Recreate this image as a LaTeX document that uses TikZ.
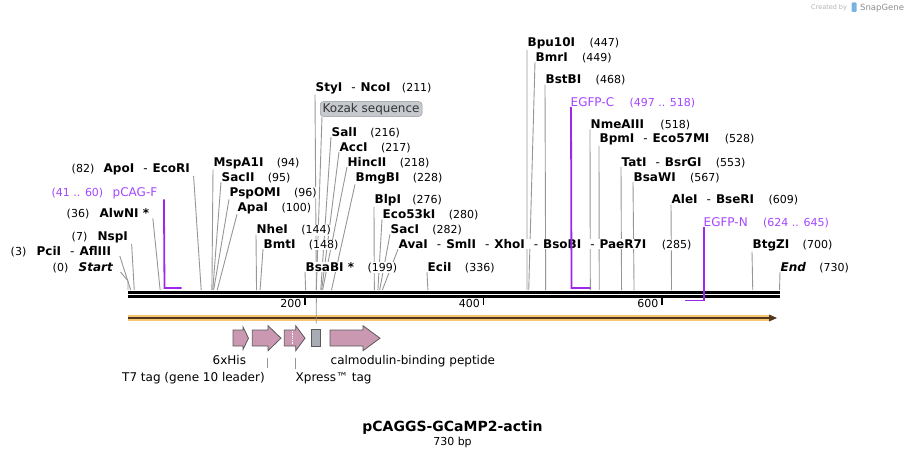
\documentclass[tikz,border=0pt]{standalone}
\usepackage{fontspec}
\setmainfont{DejaVu Sans}
\usetikzlibrary{positioning,backgrounds,calc}
\definecolor{leadgray}{RGB}{150,150,150}
\definecolor{primline}{RGB}{155,40,235}
\definecolor{primtext}{RGB}{165,70,255}
\definecolor{featpink}{RGB}{203,152,178}
\definecolor{featgray}{RGB}{168,173,181}
\definecolor{kozfill}{RGB}{198,201,206}
\definecolor{kozdraw}{RGB}{140,145,152}
\definecolor{orfband}{RGB}{247,198,112}
\definecolor{orfcore}{RGB}{80,55,30}
\definecolor{logoblue}{RGB}{120,180,225}
\newcommand\sepdash{\hspace{9pt}{\mdseries -}\hspace{5pt}}

\begin{document}
\begin{tikzpicture}[x=1pt, y=-1pt,
    enz/.style={font=\fontsize{12}{14}\selectfont\bfseries, anchor=base west, inner sep=0.5pt, fill=white},
    num/.style={font=\fontsize{11}{13}\selectfont, inner sep=0.5pt, fill=white},
    prim/.style={font=\fontsize{12}{14}\selectfont, text=primtext, anchor=base west, inner sep=0.5pt, fill=white},
    primnum/.style={num, text=primtext},
    feat/.style={font=\fontsize{12}{14}\selectfont, anchor=base west, inner sep=0.5pt},
    lead/.style={draw=leadgray, line width=0.9pt},
    bracket/.style={draw=primline, line width=1.8pt},
    featarrow/.style={draw=black!65, fill=featpink, line width=0.8pt}]
\useasboundingbox (0,0) rectangle (908,457);

% cut sites on the backbone
\foreach \n/\bp in {Start/0, PciI/3, NspI/7, AlwNI/36, ApoI/82, MspA1I/94, SacII/95,
    PspOMI/96, ApaI/100, NheI/144, BmtI/148, BsaBI/199, StyI/211, Kozak/211, SalI/216,
    AccI/217, HincII/218, BmgBI/228, BlpI/276, Eco53kI/280, SacI/282, AvaI/285,
    EciI/336, Bpu10I/447, BmrI/449, BstBI/468, NmeAIII/518, BpmI/528, TatI/553,
    BsaWI/567, AleI/609, BtgZI/700, End/730}
  \coordinate (s\n) at (128+0.8925*\bp,290);

% backbone
\draw[line width=2.6pt] (128,292.3) -- (780,292.3);
\draw[line width=2.6pt] (128,296.6) -- (780,296.6);
\foreach \bp in {200,400,600} {
  \coordinate (t\bp) at (126.5+0.8925*\bp,297.5);
  \draw[line width=1.6pt] (t\bp) -- ++(0,7.5);
  \node[num, fill=none, anchor=base east] (tl\bp) at ($(t\bp)+(-3,10)$) {\bp};
}

% enzymes, left of their sites
\node[enz] (ApoI) at (103,172.7) {ApoI\sepdash EcoRI};
\node[num, base left=8pt of ApoI] (nApoI) {(82)};
\node[enz] (AlwNI) at (99,217.7) {AlwNI *};
\node[num, base left=9pt of AlwNI] (nAlwNI) {(36)};
\node[enz] (NspI) at (97,241) {NspI};
\node[num, base left=9pt of NspI] (nNspI) {(7)};
\node[enz] (PciI) at (36,255.1) {PciI\sepdash AflIII};
\node[num, base left=9pt of PciI] (nPciI) {(3)};
\node[enz, font=\fontsize{12}{14}\selectfont\bfseries\itshape] (Start) at (78,271.1) {Start};
\node[num, base left=9pt of Start] (nStart) {(0)};

% enzymes, right of their sites
\node[enz] (MspA1I) at (213,166.1) {MspA1I};
\node[num, base right=12pt of MspA1I] {(94)};
\node[enz] (SacII) at (221,181.1) {SacII};
\node[num, base right=12pt of SacII] {(95)};
\node[enz] (PspOMI) at (229,196.1) {PspOMI};
\node[num, base right=12pt of PspOMI] {(96)};
\node[enz] (ApaI) at (237,211.1) {ApaI};
\node[num, base right=12pt of ApaI] {(100)};
\node[enz] (NheI) at (256,233.7) {NheI};
\node[num, base right=12pt of NheI] {(144)};
\node[enz] (BmtI) at (263,248.4) {BmtI};
\node[num, base right=12pt of BmtI] {(148)};
\node[enz] (BsaBI) at (305,271.1) {BsaBI *};
\node[num, base right=12pt of BsaBI] {(199)};
\node[enz] (StyI) at (315,91.1) {StyI\sepdash NcoI};
\node[num, base right=10pt of StyI] {(211)};
\node[enz] (SalI) at (331,136.1) {SalI};
\node[num, base right=12pt of SalI] {(216)};
\node[enz] (AccI) at (339,151.1) {AccI};
\node[num, base right=12pt of AccI] {(217)};
\node[enz] (HincII) at (347,166.1) {HincII};
\node[num, base right=12pt of HincII] {(218)};
\node[enz] (BmgBI) at (355,181.1) {BmgBI};
\node[num, base right=12pt of BmgBI] {(228)};
\node[enz] (BlpI) at (374,203.4) {BlpI};
\node[num, base right=10pt of BlpI] {(276)};
\node[enz] (Eco53kI) at (382,218.4) {Eco53kI};
\node[num, base right=12pt of Eco53kI] {(280)};
\node[enz] (SacI) at (390,233.4) {SacI};
\node[num, base right=12pt of SacI] {(282)};
\node[enz] (AvaI) at (398,248.4) {AvaI\sepdash SmlI\sepdash XhoI\sepdash BsoBI\sepdash PaeR7I};
\node[num, base right=14pt of AvaI] {(285)};
\node[enz] (EciI) at (427,271.1) {EciI};
\node[num, base right=12pt of EciI] {(336)};
\node[enz] (Bpu10I) at (527,46.7) {Bpu10I};
\node[num, base right=13pt of Bpu10I] {(447)};
\node[enz] (BmrI) at (535,61.1) {BmrI};
\node[num, base right=13pt of BmrI] {(449)};
\node[enz] (BstBI) at (545,83.7) {BstBI};
\node[num, base right=13pt of BstBI] {(468)};
\node[enz] (NmeAIII) at (590,128.4) {NmeAIII};
\node[num, base right=15pt of NmeAIII] {(518)};
\node[enz] (BpmI) at (599,142.7) {BpmI\sepdash Eco57MI};
\node[num, base right=14pt of BpmI] {(528)};
\node[enz] (TatI) at (621,166.1) {TatI\sepdash BsrGI};
\node[num, base right=13pt of TatI] {(553)};
\node[enz] (BsaWI) at (633,181.1) {BsaWI};
\node[num, base right=13pt of BsaWI] {(567)};
\node[enz] (AleI) at (671,203.4) {AleI\sepdash BseRI};
\node[num, base right=13pt of AleI] {(609)};
\node[enz] (BtgZI) at (752,248.4) {BtgZI};
\node[num, base right=12pt of BtgZI] {(700)};
\node[enz, font=\fontsize{12}{14}\selectfont\bfseries\itshape] (End) at (780,271.1) {End};
\node[num, base right=12pt of End] {(730)};

% primers
\node[prim] (pCAGF) at (112,196.1) {pCAG-F};
\node[primnum, base left=8pt of pCAGF] {(41 .. 60)};
\node[prim] (EGFPC) at (570,106.1) {EGFP-C};
\node[primnum, base right=14pt of EGFPC] {(497 .. 518)};
\node[prim] (EGFPN) at (703,226.1) {EGFP-N};
\node[primnum, base right=14pt of EGFPN] {(624 .. 645)};
\draw[bracket] ([xshift=6pt]pCAGF.south east) -- (164.5,288) -- (181.5,288);
\draw[bracket] ([xshift=1pt]EGFPC.south west) -- (571.5,288) -- (590.3,288);
\draw[bracket] ([xshift=1pt]EGFPN.south west) -- (704,300.5) -- (685,300.5);

% Kozak label
\node[font=\fontsize{12}{14}\selectfont, text=black!80, fill=kozfill, draw=kozdraw,
  rounded corners=3pt, inner xsep=2.5pt, inner ysep=1.5pt, anchor=west] (Kozak) at (320,109) {Kozak sequence};

% leader lines
\begin{pgfonlayer}{background}
\foreach \n in {MspA1I, SacII, PspOMI, ApaI, NheI, BmtI, BsaBI, StyI, SalI, AccI, HincII,
    BmgBI, BlpI, Eco53kI, SacI, AvaI, EciI, Bpu10I, BmrI, BstBI, NmeAIII, BpmI, TatI,
    BsaWI, AleI, BtgZI, End}
  \draw[lead] (\n.south west) -- (s\n);
\draw[lead] ([xshift=3pt]ApoI.south east) -- (sApoI);
\draw[lead] ([xshift=3pt]AlwNI.south east) -- (sAlwNI);
\draw[lead] ([xshift=3pt]NspI.south east) -- (sNspI);
\draw[lead] ([xshift=8pt]PciI.south east) -- (sPciI);
\draw[lead] ([xshift=7pt]Start.south east) -- ($(sStart)+(0,-9)$) -- (sStart);
\draw[lead] ([xshift=2pt]Kozak.south west) -- (sKozak);
\end{pgfonlayer}

% open reading frame
\draw[orfband, line width=6.5pt] (128,318) -- (771,318);
\draw[orfcore, line width=1.5pt] (128,318) -- (772,318);
\fill[orfcore] (769,314.5) -- (777,318) -- (769,321.5) -- cycle;

% features
\draw[featarrow] (233,330) -- (243,330) -- (243,327) -- (248.5,338.2) -- (243,349.5) -- (243,346) -- (233,346) -- cycle;
\draw[featarrow] (252.3,330) -- (268,330) -- (268,325.7) -- (281,338.2) -- (268,350.7) -- (268,346) -- (252.3,346) -- cycle;
\draw[featarrow] (284.3,330) -- (295.7,330) -- (295.7,325.7) -- (305,338.2) -- (295.7,350.7) -- (295.7,346) -- (284.3,346) -- cycle;
\draw[white, densely dotted, line width=0.8pt] (292.7,330.8) -- (292.7,345.2);
\draw[draw=black!65, fill=featgray, line width=0.8pt] (311.7,329.5) rectangle (320.7,346.5);
\draw[featarrow] (330,330) -- (363,330) -- (363,325.7) -- (380,338.2) -- (363,350.7) -- (363,346) -- (330,346) -- cycle;
\coordinate (fKozak) at (316.2,323.5);
\draw[lead] ($(sKozak)+(0,8)$) -- (fKozak);

\node[feat] (His) at (212,364) {6xHis};
\node[feat] (Cbp) at (330,364) {calmodulin-binding peptide};
\node[feat] (T7) at (121.5,381) {T7 tag (gene 10 leader)};
\node[feat] (Xpress) at (295,381) {Xpress™ tag};
\coordinate (fT7) at (267.3,351);
\coordinate (fXp) at (295.3,351);
\draw[lead] ($(fT7)+(0,6.5)$) -- ($(fT7 |- T7.north)+(0,-3)$);
\draw[lead] ($(fXp)+(0,6.5)$) -- ($(fXp |- Xpress.north)+(0,-3)$);

% title
\node[font=\fontsize{14}{16}\selectfont\bfseries, anchor=base] (title) at (452.5,431) {pCAGGS-GCaMP2-actin};
\node[font=\fontsize{11}{13}\selectfont, anchor=base] (size) at (452.5,445.5) {730 bp};

% credit
\node[font=\fontsize{6.5}{8}\selectfont, text=black!30, anchor=base west, inner sep=0pt] (cred) at (811,9.5) {Created by};
\fill[logoblue, rounded corners=1pt] (851.5,2.5) rectangle (856.5,12);
\node[font=\fontsize{8.5}{10}\selectfont, text=black!45, anchor=base west, inner sep=0pt] (sg) at (860,10.5) {SnapGene};
\end{tikzpicture}
\end{document}
